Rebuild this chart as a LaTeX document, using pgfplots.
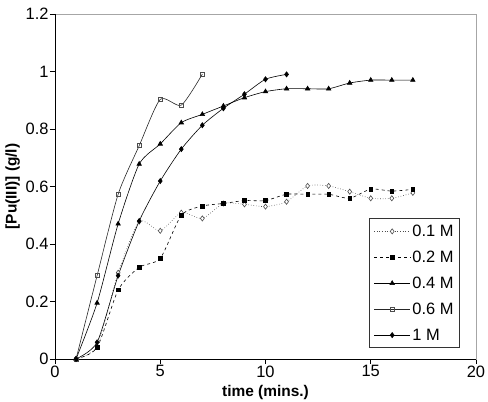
\documentclass[border=0pt]{standalone}
\usepackage{pgfplots}
\pgfplotsset{compat=1.18}
\usepackage{fontspec}
\setmainfont{Liberation Sans}
\begin{document}
\begin{tikzpicture}
\useasboundingbox (-55bp,-43bp) rectangle (433bp,359bp);
\begin{axis}[
  scale only axis, width=421bp, height=345bp,
  xmin=0, xmax=20, ymin=0, ymax=1.2,
  xtick={0,5,...,20}, ytick={0,0.2,...,1.2},
  yticklabels={0,0.2,0.4,0.6,0.8,1,1.2},
  /pgf/number format/assume math mode=true,
  tick align=outside, xtick pos=bottom, ytick pos=left,
  major tick length=5bp,
  tick style={black, line width=0.6pt},
  axis line style={gray!70, line width=0.8pt},
  ticklabel style={font=\fontsize{16.5}{18}\selectfont},
  xticklabel style={yshift=2bp},
  yticklabel style={xshift=2bp},
  xlabel={\bfseries time (mins.)}, ylabel={\bfseries [Pu(III)] (g/l)},
  label style={font=\fontsize{15.5}{17}\selectfont},
  xlabel style={yshift=-1bp}, ylabel style={yshift=-1bp},
  legend style={at={(0.962,0.032)}, anchor=south east, draw=black!80, line width=0.9pt,
    font=\fontsize{16.5}{18}\selectfont, row sep=9bp, inner sep=4pt},
  legend cell align=left,
  every axis plot/.append style={line width=0.6pt, smooth, tension=0.4},
  legend image post style={sharp plot},
  legend image code/.code={\draw[mark repeat=2,mark phase=2] plot coordinates {(0bp,0bp) (18bp,0bp) (36bp,0bp)};},
]
\addplot[black!70, dotted, mark=diamond*, mark options={solid, fill=white, draw=black!70, scale=1.3}] coordinates {
(1,0) (2,0.045) (3,0.30) (4,0.478) (5,0.446) (6,0.509) (7,0.489) (8,0.541) (9,0.538) (10,0.53) (11,0.547) (12,0.602) (13,0.602) (14,0.582) (15,0.559) (16,0.559) (17,0.578)};
\addlegendentry{0.1 M}
\addplot[black, dashed, mark=square*, mark options={solid, fill=black, scale=0.9}] coordinates {
(1,0) (2,0.04) (3,0.24) (4,0.319) (5,0.35) (6,0.50) (7,0.532) (8,0.541) (9,0.551) (10,0.551) (11,0.573) (12,0.573) (13,0.573) (14,0.559) (15,0.591) (16,0.584) (17,0.590)};
\addlegendentry{0.2 M}
\addplot[black, mark=triangle*, mark options={solid, fill=black, scale=1.3}] coordinates {
(1,0) (2,0.195) (3,0.47) (4,0.678) (5,0.748) (6,0.822) (7,0.851) (8,0.880) (9,0.909) (10,0.93) (11,0.94) (12,0.94) (13,0.94) (14,0.96) (15,0.97) (16,0.97) (17,0.97)};
\addlegendentry{0.4 M}
\addplot[black!85, mark=square, mark options={solid, fill=white, draw=black!70, scale=1.0}] coordinates {
(1,0) (2,0.29) (3,0.573) (4,0.742) (5,0.903) (6,0.883) (7,0.991)};
\addlegendentry{0.6 M}
\addplot[black, mark=diamond*, mark options={solid, fill=black, scale=1.3}] coordinates {
(1,0) (2,0.058) (3,0.29) (4,0.48) (5,0.619) (6,0.730) (7,0.813) (8,0.872) (9,0.921) (10,0.973) (11,0.99)};
\addlegendentry{1 M}
\draw[black, line width=0.8pt] (rel axis cs:0,1) -- (rel axis cs:0,0) -- (rel axis cs:1,0);
\end{axis}
\end{tikzpicture}
\end{document}
